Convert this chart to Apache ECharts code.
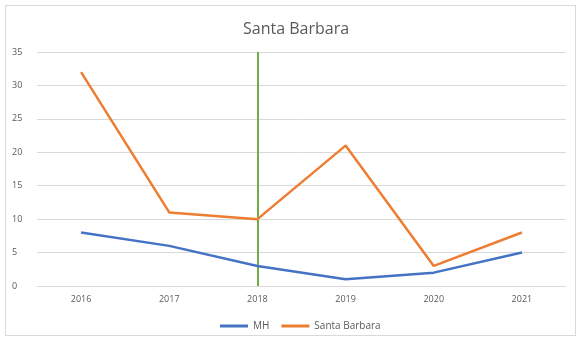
<!DOCTYPE html>
<html>
<head>
<meta charset="utf-8">
<script src="https://cdn.jsdelivr.net/npm/echarts@6/dist/echarts.min.js"></script>
<style>
  html, body { margin: 0; padding: 0; background: #fff; }
  #frame { position: absolute; left: 5px; top: 5px; width: 571px; height: 331px; border: 1px solid #d9d9d9; box-sizing: border-box; }
  #chart { position: absolute; left: 0; top: 0; width: 582px; height: 341px; }
</style>
</head>
<body>
<div id="frame"></div>
<div id="chart"></div>
<script>
// Yearly counts for MH and Santa Barbara
const years = ['2016', '2017', '2018', '2019', '2020', '2021'];
const mhValues = [8, 6, 3, 1, 2, 5];
const sbValues = [32, 11, 10, 21, 3, 8];
const markerYear = '2018';

const textColor = '#595959';
const chart = echarts.init(document.getElementById('chart'), null, { renderer: 'canvas' });
chart.setOption({
  animation: false,
  title: {
    text: 'Santa Barbara',
    left: 238,
    top: 16,
    textStyle: { fontFamily: 'Open Sans', fontSize: 16, fontWeight: 'normal', color: textColor }
  },
  legend: {
    bottom: 5,
    left: 215,
    itemWidth: 28,
    itemHeight: 3,
    itemGap: 12,
    icon: 'rect',
    textStyle: { fontFamily: 'Open Sans', fontSize: 10, color: textColor },
    data: ['MH', 'Santa Barbara']
  },
  grid: { left: 37, right: 16, top: 52, bottom: 55, containLabel: false },
  xAxis: {
    type: 'category',
    data: years,
    boundaryGap: true,
    axisLine: { show: true, lineStyle: { color: '#d9d9d9' } },
    axisTick: { show: false },
    axisLabel: { fontFamily: 'Open Sans', fontSize: 9, color: textColor, margin: 9 }
  },
  yAxis: {
    type: 'value',
    min: 0,
    max: 35,
    interval: 5,
    axisLine: { show: false },
    axisTick: { show: false },
    axisLabel: { fontFamily: 'Open Sans', fontSize: 9, color: textColor, margin: 25, align: 'left' },
    splitLine: { lineStyle: { color: '#d9d9d9', width: 1 } }
  },
  series: [
    {
      name: 'MH',
      type: 'line',
      data: mhValues,
      symbol: 'none',
      itemStyle: { color: '#4472C4' },
      lineStyle: { color: '#4472C4', width: 2.5 },
      z: 3
    },
    {
      name: 'Santa Barbara',
      type: 'line',
      data: sbValues,
      symbol: 'none',
      itemStyle: { color: '#ED7D31' },
      lineStyle: { color: '#ED7D31', width: 2.5 },
      z: 3,
      markLine: {
        silent: true,
        symbol: 'none',
        label: { show: false },
        lineStyle: { color: '#70AD47', width: 2, type: 'solid' },
        data: [{ xAxis: markerYear }],
        z: 2
      }
    }
  ]
});
</script>
</body>
</html>
